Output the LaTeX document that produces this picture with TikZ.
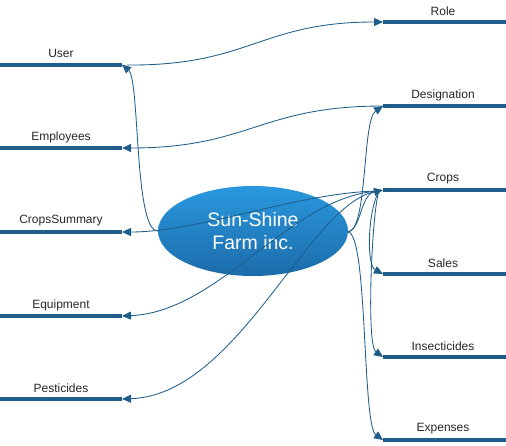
\documentclass[tikz,border=0pt]{standalone}
\usepackage{fontspec}
\setmainfont{Liberation Sans}
\usetikzlibrary{arrows.meta,shapes.geometric,shadings}
\definecolor{bar}{RGB}{31,94,138}
\definecolor{ltop}{RGB}{42,152,222}
\definecolor{lbot}{RGB}{28,108,170}
\tikzset{
  x=1pt,y=-1pt,
  barline/.style={draw=bar,line width=4pt},
  lbl/.style={font=\fontsize{12}{14}\selectfont,text=black!85,inner sep=0pt},
  conn/.style={draw=bar,line width=0.85pt,-{Triangle[length=9pt,width=8pt]}},
  hub/.style={ellipse,minimum width=190pt,minimum height=90pt,top color=ltop,bottom color=lbot,draw=none,
     text=white,font=\fontsize{19.5}{23}\selectfont,align=center}
}
\begin{document}
\begin{tikzpicture}
\useasboundingbox (0,0) rectangle (506,445);
% hub
\node[hub] (hub) at (253,231) {Sun-Shine\\Farm inc.};
% left bars
\foreach \n/\y/\t in {user/64.5/User,emp/148/Employees,csum/232/CropsSummary,equip/316/Equipment,pest/399/Pesticides}{
  \coordinate (\n) at (122,\y);
  \coordinate (\n-o) at (0,\y);
  \draw[barline] (\n-o) -- (\n);
  \node[lbl] (\n-l) at (61,\y-11) {\t};
}
% right bars
\foreach \n/\y/\t in {role/22/Role,desig/106/Designation,crops/190/Crops,sales/274/Sales,insect/357/Insecticides,exp/440/Expenses}{
  \coordinate (\n) at (383,\y);
  \coordinate (\n-o) at (506,\y);
  \draw[barline] (\n) -- (\n-o);
  \node[lbl] (\n-l) at (443,\y-11) {\t};
}
\coordinate (hubL) at (158,231);
\coordinate (hubR) at (348,232);
\coordinate (cj) at (379,191);
% connectors
\draw[conn] (hubL) .. controls (134,232) and (140,80) .. (user);
\draw[conn] (127,65) .. controls (250,66) and (260,22) .. (role);
\draw[conn] (desig) .. controls (260,106) and (250,148) .. (emp);
\draw[conn] (hubR) .. controls (368,230) and (362,120) .. (desig);
\draw[conn] (hubR) .. controls (368,234) and (362,425) .. (exp);
\draw[conn] (hubR) .. controls (362,228) and (360,195) .. (crops);
\draw[conn] (cj) .. controls (368,210) and (366,265) .. (sales);
\draw[conn] (cj) .. controls (372,210) and (366,345) .. (insect);
\draw[conn] (cj) .. controls (300,192) and (200,232) .. (csum);
\draw[conn] (cj) .. controls (290,196) and (220,312) .. (equip);
\draw[conn] (cj) .. controls (310,198) and (240,395) .. (pest);
\end{tikzpicture}
\end{document}
